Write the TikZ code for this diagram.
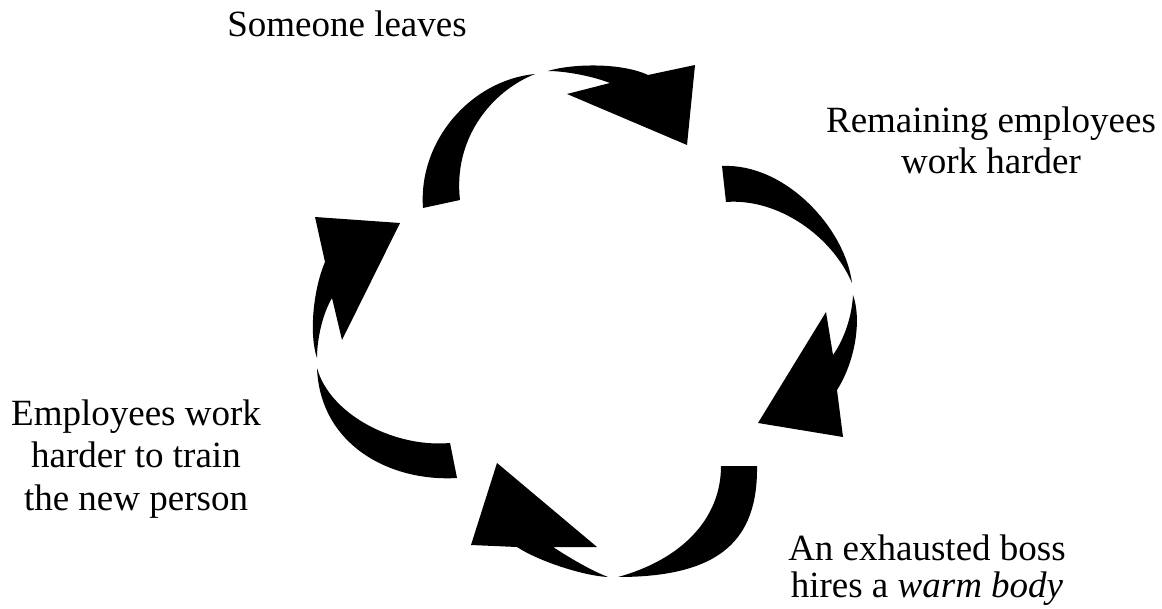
\documentclass[tikz,border=0pt]{standalone}
\usepackage{fontspec}
\setmainfont{Liberation Serif}
\begin{document}
\begin{tikzpicture}[x=1pt,y=-1pt]
\tikzset{
  band/.style={fill=black},
  lbl/.style={align=center, inner sep=0pt, anchor=base, text=black}
}
\useasboundingbox (0,0) rectangle (1162,609);

% top arrow
\fill[band] (423,208) .. controls (418,140) and (472,80) .. (535,74)
  .. controls (490,92) and (453,140) .. (460,200) -- cycle;
\fill[band] (548,71) .. controls (570,64) and (620,62) .. (648,75)
  -- (695,65) -- (687,145) -- (567,94) -- (610,83)
  .. controls (592,76) and (565,71) .. (548,71) -- cycle;

% right arrow
\fill[band] (722,166) .. controls (785,163) and (845,228) .. (852,283)
  .. controls (832,236) and (778,198) .. (726,202) -- cycle;
\fill[band] (853,295) .. controls (862,320) and (855,362) .. (837,390)
  -- (843,437) -- (758,423) -- (826,312) -- (833,355)
  .. controls (845,338) and (852,315) .. (853,295) -- cycle;

% bottom arrow
\fill[band] (721,466) -- (757,466) .. controls (758,540) and (720,577) .. (618,577)
  .. controls (680,560) and (721,520) .. (721,466) -- cycle;
\fill[band] (608,577) .. controls (585,576) and (540,562) .. (517,547)
  -- (471,545) -- (497,463) -- (597,547) -- (553,547)
  .. controls (570,558) and (590,570) .. (608,577) -- cycle;

% left arrow
\fill[band] (457,478) .. controls (390,482) and (320,445) .. (317,368)
  .. controls (330,415) and (395,448) .. (450,443) -- cycle;
\fill[band] (317,358) .. controls (309,335) and (313,290) .. (325,262)
  -- (315,217) -- (400,223) -- (342,340) -- (332,298)
  .. controls (322,315) and (317,340) .. (317,358) -- cycle;

% labels
\node[lbl, font=\fontsize{37}{41}\selectfont] (leaves) at (347,37) {Someone leaves};
\node[lbl, font=\fontsize{37}{40.7}\selectfont] (harder) at (991,173.3) {Remaining employees\\work harder};
\node[lbl, font=\fontsize{37}{42.8}\selectfont] (train) at (136,510.7) {Employees work\\harder to train\\the new person};
\node[lbl, font=\fontsize{37}{36.6}\selectfont] (boss) at (927,597.3) {An exhausted boss\\hires a \textit{warm body}};
\end{tikzpicture}
\end{document}
